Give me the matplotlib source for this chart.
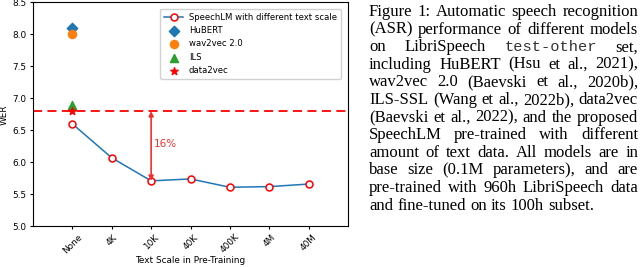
import numpy as np
import matplotlib.pyplot as plt

# data
scales = ["None", "4K", "10K", "40K", "400K", "4M", "40M"]
speechlm_wer = [6.6, 6.07, 5.71, 5.74, 5.61, 5.62, 5.66]
hubert_wer = 8.1
wav2vec_wer = 8.0
ils_wer = 6.9
data2vec_wer = 6.8

caption_lines = [
    ["Figure", "1:", "Automatic", "speech", "recognition"],
    ["(ASR)", "performance", "of", "different", "models"],
    ["on", "LibriSpeech", "`test-other", "set,"],
    ["including", "HuBERT", "(Hsu", "et", "al.,", "2021),"],
    ["wav2vec", "2.0", "(Baevski", "et", "al.,", "2020b),"],
    ["ILS-SSL", "(Wang", "et", "al.,", "2022b),", "data2vec"],
    ["(Baevski", "et", "al.,", "2022),", "and", "the", "proposed"],
    ["SpeechLM", "pre-trained", "with", "different"],
    ["amount", "of", "text", "data.", "All", "models", "are", "in"],
    ["base", "size", "(0.1M", "parameters),", "and", "are"],
    ["pre-trained", "with", "960h", "LibriSpeech", "data"],
    ["and", "fine-tuned", "on", "its", "100h", "subset."],
]

W, H = 640, 267
fig = plt.figure(figsize=(6.4, 2.67), dpi=100)
ax = fig.add_axes([33 / W, 1 - 226.3 / H, (348 - 33) / W, (226.3 - 2.3) / H])

fsz = 6.4
x = np.arange(len(scales))
ax.axhline(data2vec_wer, color="red", ls=(0, (5, 3)), lw=1.3, zorder=1)
ax.plot(x, speechlm_wer, color="tab:blue", lw=1.1, marker="o", ms=5,
        mfc="white", mec="red", mew=1.1, label="SpeechLM with different text scale")
ax.scatter([0], [hubert_wer], marker="D", color="tab:blue", s=28, label="HuBERT", zorder=3)
ax.scatter([0], [wav2vec_wer], marker="o", color="tab:orange", s=34, label="wav2vec 2.0", zorder=3)
ax.scatter([0], [ils_wer], marker="^", color="tab:green", s=34, label="ILS", zorder=3)
ax.scatter([0], [data2vec_wer], marker="*", color="red", s=30, label="data2vec", zorder=3)

ax.annotate("", xy=(2, speechlm_wer[2]), xytext=(2, data2vec_wer),
            arrowprops=dict(arrowstyle="<|-|>", color="#f03030", lw=1.2,
                            mutation_scale=7, shrinkA=0, shrinkB=0))
ax.text(2.07, 6.29, "16%", color="#f03030", fontsize=7.5, va="center")

ax.set_xlim(-1, 7)
ax.set_ylim(5.0, 8.5)
ax.set_xticks(x)
ax.set_xticklabels(scales, rotation=45, fontsize=fsz)
ax.set_yticks(np.arange(5.0, 8.51, 0.5))
ax.tick_params(axis="y", labelsize=fsz, length=2.5, pad=2)
ax.tick_params(axis="x", length=2.5, pad=2)
ax.set_ylabel("WER", fontsize=fsz, labelpad=3)
ax.set_xlabel("Text Scale in Pre-Training", fontsize=fsz, labelpad=0.5)
ax.legend(loc="upper right", fontsize=6.1, borderpad=0.45, labelspacing=0.52,
          handlelength=2.2, handletextpad=0.7, framealpha=0.9,
          bbox_to_anchor=(0.99, 0.99))

# caption, justified by hand
fig.canvas.draw()
renderer = fig.canvas.get_renderer()
probe = fig.text(0, 0, "(ASR) performance", fontsize=10, family="Liberation Serif")
fs = 10 * 132 / probe.get_window_extent(renderer).width
probe.remove()

left_px, right_px = 369, 638
top_px, step = 12, 17.6
for i, words in enumerate(caption_lines):
    y = 1 - (top_px + i * step) / H
    objs = []
    for w in words:
        if w.startswith("`"):
            t = fig.text(0, y, w[1:], fontsize=fs * 0.92, family="Liberation Mono",
                         color="#333333", va="center")
        else:
            t = fig.text(0, y, w, fontsize=fs, family="Liberation Serif", va="center")
        objs.append(t)
    widths = [t.get_window_extent(renderer).width for t in objs]
    if i < len(caption_lines) - 1:
        gap = (right_px - left_px - sum(widths)) / (len(objs) - 1)
    else:
        gap = fs * 0.35
    xp = left_px
    for t, wd in zip(objs, widths):
        t.set_x(xp / W)
        xp += wd + gap

fig.savefig("out.png", dpi=100)
